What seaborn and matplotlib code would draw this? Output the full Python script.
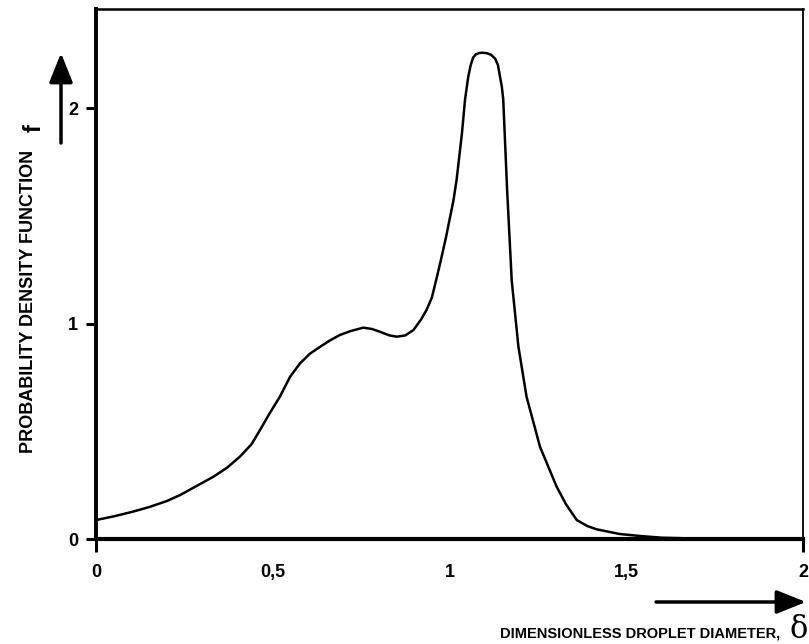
import numpy as np
import pandas as pd
import matplotlib
matplotlib.use("Agg")
import matplotlib.pyplot as plt
from matplotlib.patches import FancyArrowPatch
import seaborn as sns

# droplet diameter (dimensionless) and pdf values
delta = [0.0, 0.05, 0.1, 0.15, 0.2, 0.238, 0.3, 0.332, 0.37, 0.407, 0.44, 0.464,
         0.49, 0.52, 0.549, 0.577, 0.605, 0.634, 0.66, 0.69, 0.72, 0.756, 0.78,
         0.803, 0.83, 0.851, 0.875, 0.898, 0.92, 0.935, 0.95, 0.962, 0.975, 0.99,
         1.011, 1.02, 1.035, 1.044, 1.053, 1.06, 1.067, 1.075, 1.085, 1.094, 1.105,
         1.117, 1.129, 1.137, 1.143, 1.148, 1.152, 1.157, 1.163, 1.176, 1.195,
         1.218, 1.256, 1.303, 1.33, 1.36, 1.39, 1.416, 1.482, 1.539, 1.6, 1.7, 2.0]
pdf = [0.088, 0.105, 0.125, 0.148, 0.176, 0.204, 0.26, 0.289, 0.33, 0.382, 0.44,
       0.506, 0.58, 0.66, 0.753, 0.815, 0.86, 0.892, 0.92, 0.947, 0.965, 0.981,
       0.975, 0.962, 0.945, 0.939, 0.945, 0.97, 1.02, 1.063, 1.12, 1.2, 1.29, 1.4,
       1.57, 1.666, 1.88, 2.04, 2.145, 2.2, 2.235, 2.25, 2.256, 2.257, 2.255,
       2.248, 2.23, 2.2, 2.145, 2.1, 2.04, 1.85, 1.62, 1.2, 0.892, 0.66, 0.428,
       0.243, 0.16, 0.088, 0.06, 0.045, 0.023, 0.014, 0.006, 0.002, 0.0]

x_ticks = [0, 2]
x_ticks_mid = [0.5, 1, 1.5]
x_labels = ["0", "2"]
x_labels_mid = ["0,5", "1", "1,5"]
y_ticks = [0, 1, 2]
y_labels = ["0", "1", "2"]

sns.set_theme(style="white")
plt.rcParams["font.family"] = ["Liberation Sans Narrow", "Liberation Sans", "DejaVu Sans"]
plt.rcParams["text.color"] = "black"

df = pd.DataFrame({"delta": delta, "f": pdf})

fig = plt.figure(figsize=(8.09, 6.44), dpi=100)
ax = fig.add_axes([96 / 809, 1 - 539 / 644, (803 - 96) / 809, (539 - 9) / 644])

sns.lineplot(data=df, x="delta", y="f", ax=ax, color="black", linewidth=1.8)

ax.set_xlim(0, 2)
ax.set_ylim(0, 2.46)
ax.set_xlabel("")
ax.set_ylabel("")

ax.set_xticks(x_ticks, x_labels)
ax.set_xticks(x_ticks_mid, x_labels_mid, minor=True)
ax.set_yticks(y_ticks, y_labels)
ax.tick_params(axis="x", which="major", direction="out", length=9, width=2.2,
               pad=9, colors="black", bottom=True)
ax.tick_params(axis="x", which="minor", length=0, pad=18, colors="black",
               bottom=True)
ax.tick_params(axis="y", which="major", direction="out", length=7, width=2.2,
               pad=6, colors="black", left=True)
for lab in ax.get_xticklabels(which="both") + ax.get_yticklabels():
    lab.set_fontweight("bold")
    lab.set_fontsize(13)
    lab.set_family(["Liberation Sans", "DejaVu Sans"])

for side, lw in [("left", 2.8), ("bottom", 3.0), ("top", 1.8), ("right", 1.3)]:
    ax.spines[side].set_visible(True)
    ax.spines[side].set_color("black")
    ax.spines[side].set_linewidth(lw)

# axis titles with arrows, as in the original drawing
fig.text(29 / 809, 1 - 301 / 644, "PROBABILITY DENSITY FUNCTION", rotation=90,
         ha="center", va="center", fontsize=13, fontweight="bold")
fig.text(34 / 809, 1 - 128 / 644, "f", rotation=90, ha="center", va="center",
         fontsize=17, fontweight="bold")
fig.text(780 / 809, 1 - 633 / 644, "DIMENSIONLESS DROPLET DIAMETER,", ha="right",
         va="center", fontsize=10.5, fontweight="bold")
fig.text(799 / 809, 1 - 630 / 644, "\u03b4", ha="center", va="center",
         fontsize=22, family=["DejaVu Serif"])

arrow = dict(arrowstyle="-|>,head_length=0.9,head_width=0.36", color="black",
             lw=2.5, mutation_scale=20, shrinkA=0, shrinkB=0)
fig.add_artist(FancyArrowPatch((61 / 809, 1 - 143 / 644), (61 / 809, 1 - 53 / 644),
                               transform=fig.transFigure, **arrow))
fig.add_artist(FancyArrowPatch((656 / 809, 1 - 602 / 644), (806 / 809, 1 - 602 / 644),
                               transform=fig.transFigure, **arrow))

fig.savefig("out.png", dpi=100)
